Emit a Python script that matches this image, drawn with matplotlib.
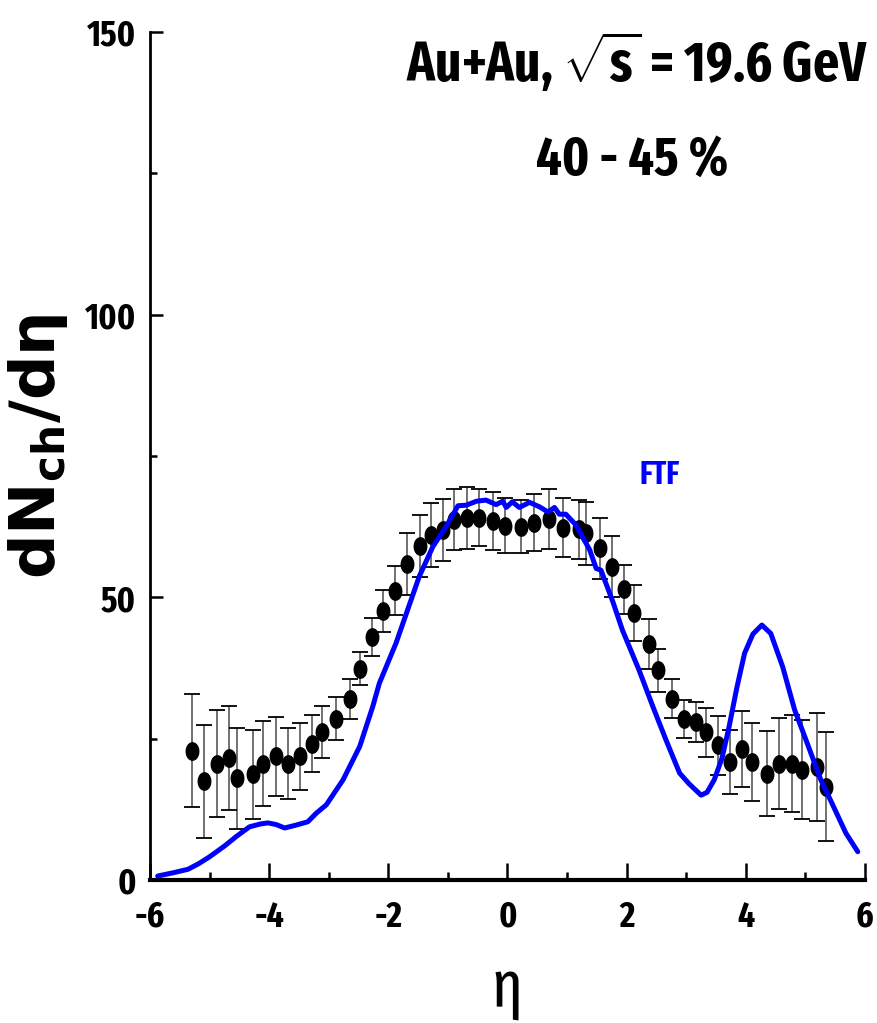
import matplotlib
matplotlib.use("Agg")
import matplotlib.pyplot as plt
import numpy as np
from matplotlib.path import Path

# ---- data ----
eta_data = [-5.30, -5.10, -4.87, -4.68, -4.54, -4.27, -4.10, -3.89, -3.69, -3.48,
            -3.28, -3.11, -2.88, -2.65, -2.47, -2.28, -2.09, -1.88, -1.68, -1.46,
            -1.29, -1.08, -0.89, -0.68, -0.48, -0.25, -0.04, 0.23, 0.45, 0.69,
            0.93, 1.20, 1.32, 1.56, 1.76, 1.96, 2.13, 2.37, 2.52, 2.77,
            2.97, 3.17, 3.33, 3.54, 3.74, 3.94, 4.10, 4.35, 4.55, 4.77,
            4.94, 5.20, 5.35]
dn_data = [22.9, 17.5, 20.6, 21.6, 18.0, 18.7, 20.6, 21.9, 20.6, 21.9,
           24.1, 26.2, 28.5, 32.0, 37.4, 43.0, 47.6, 51.2, 55.9, 59.1,
           61.0, 61.9, 63.7, 64.0, 64.1, 63.5, 62.7, 62.5, 63.2, 63.8,
           62.3, 62.0, 61.3, 58.7, 55.4, 51.4, 47.2, 41.8, 37.1, 32.1,
           28.5, 27.9, 26.1, 23.8, 20.9, 23.2, 20.9, 18.8, 20.6, 20.6,
           19.5, 20.0, 16.5]
dn_err = [10.0, 10.0, 9.5, 9.2, 8.9, 7.9, 7.6, 7.0, 6.3, 5.9,
          5.0, 4.6, 3.8, 3.6, 2.9, 3.4, 3.7, 4.4, 5.4, 5.5,
          5.6, 5.5, 5.4, 5.5, 5.0, 5.1, 4.8, 4.7, 5.0, 5.3,
          5.2, 5.3, 5.6, 5.4, 5.4, 4.4, 5.0, 4.4, 3.8, 3.4,
          3.3, 3.5, 4.3, 5.2, 5.7, 6.7, 6.9, 7.5, 8.0, 8.6,
          8.8, 9.6, 9.6]

eta_ftf = [-5.87, -5.60, -5.36, -5.18, -5.00, -4.75, -4.55, -4.33, -4.15, -4.02,
           -3.88, -3.74, -3.55, -3.35, -3.21, -3.04, -2.76, -2.48, -2.26, -2.15,
           -1.87, -1.48, -1.25, -1.03, -0.83, -0.69, -0.52, -0.36, -0.19, -0.08,
           -0.02, 0.08, 0.20, 0.37, 0.54, 0.68, 0.79, 0.87, 0.98, 1.15,
           1.38, 1.49, 1.57, 1.77, 1.93, 2.21, 2.44, 2.66, 2.89, 3.05,
           3.25, 3.35, 3.47, 3.60, 3.72, 3.85, 3.98, 4.12, 4.27, 4.42,
           4.62, 4.82, 5.01, 5.26, 5.45, 5.68, 5.88]
dn_ftf = [0.7, 1.3, 1.9, 2.9, 4.1, 6.0, 7.7, 9.4, 9.9, 10.1,
          9.8, 9.2, 9.7, 10.3, 11.8, 13.3, 17.7, 23.6, 30.7, 34.8,
          41.9, 53.7, 59.0, 62.5, 66.2, 66.3, 67.0, 67.2, 66.4, 67.0,
          65.9, 66.9, 65.9, 66.8, 66.0, 65.1, 65.9, 64.7, 64.7, 62.8,
          58.4, 55.1, 54.8, 49.2, 44.2, 37.1, 30.7, 24.8, 18.9, 17.0,
          15.0, 15.5, 17.7, 21.5, 27.1, 34.0, 40.1, 43.5, 45.1, 43.6,
          37.7, 30.1, 24.8, 17.7, 13.5, 8.3, 5.0]

xticks = [-6, -4, -2, 0, 2, 4, 6]
yticks = [0, 50, 100, 150]

NARROW = ['Fira Sans Extra Condensed', 'DejaVu Sans']
WIDE = ['DejaVu Sans']
plt.rcParams['axes.unicode_minus'] = False
plt.rcParams['mathtext.fontset'] = 'custom'
plt.rcParams['mathtext.rm'] = 'Fira Sans Extra Condensed:bold'
plt.rcParams['mathtext.bf'] = 'DejaVu Sans:bold'

fig = plt.figure(figsize=(8.78, 10.23), dpi=100)
ax = fig.add_axes([0.1708, 0.1398, 0.8143, 0.8289])

# ellipse marker
t = np.linspace(0, 2 * np.pi, 40)
ell = Path(np.column_stack([0.72 * np.cos(t), np.sin(t)]), closed=True)

ax.errorbar(eta_data, dn_data, yerr=dn_err, fmt='none', ecolor='#666666',
            elinewidth=1.3, capsize=0, zorder=2)
ax.errorbar(eta_data, dn_data, yerr=dn_err, fmt='none', ecolor='black',
            elinewidth=0, capsize=6, capthick=1.3, zorder=2)
ax.plot(eta_data, dn_data, linestyle='none', marker=ell, markersize=12.5,
        color='black', zorder=3)
ax.plot(eta_ftf, dn_ftf, color='#0000ff', linewidth=3.6, zorder=4,
        solid_capstyle='round', solid_joinstyle='round')

ax.set_xlim(-6, 6)
ax.set_ylim(0, 150)
ax.set_xticks(xticks)
ax.set_yticks(yticks)
ax.set_xticks([-5, -3, -1, 1, 3, 5], minor=True)
ax.set_yticks([25, 75, 125], minor=True)
ax.spines['top'].set_visible(False)
ax.spines['right'].set_visible(False)
ax.spines['bottom'].set_linewidth(3)
ax.spines['left'].set_linewidth(2)
ax.tick_params(axis='x', which='major', direction='in', length=12, width=1.8, pad=14)
ax.tick_params(axis='x', which='minor', direction='in', length=6, width=1.8)
ax.tick_params(axis='y', which='major', direction='in', length=9, width=1.8, pad=10)
ax.tick_params(axis='y', which='minor', direction='in', length=5, width=1.8)
for lab in ax.get_xticklabels() + ax.get_yticklabels():
    lab.set_fontfamily(NARROW)
    lab.set_fontweight('bold')
    lab.set_fontsize(26)

ax.set_xlabel('η', family=NARROW, fontsize=46, labelpad=16)
ax.set_ylabel(r'dN$_{\mathbf{ch}}$/dη', family=WIDE, fontweight='bold', fontsize=45)
ax.yaxis.set_label_coords(-0.112, 0.512)

ax.text(2.55, 71.6, 'FTF', color='#0000ff', family=NARROW, fontweight='bold',
        fontsize=23, ha='center', va='center')

fig.text(0.7255, 0.939, r'Au+Au, $\sqrt{\mathrm{s}}$ = 19.6 GeV', family=NARROW,
         fontweight='bold', fontsize=40, ha='center', va='center')
fig.text(0.7198, 0.8436, '40 - 45 %', family=NARROW, fontweight='bold',
         fontsize=39, ha='center', va='center')

fig.savefig('out.png', dpi=100)
